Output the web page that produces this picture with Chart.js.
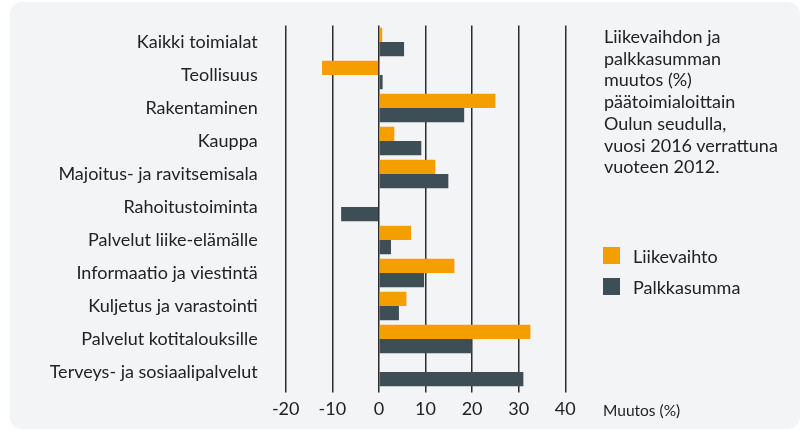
<!DOCTYPE html>
<html>
<head>
<meta charset="utf-8">
<script src="https://cdn.jsdelivr.net/npm/chart.js@4"></script>
<style>
  html, body { margin:0; padding:0; background:#ffffff; }
  body { width:806px; height:430px; position:relative; overflow:hidden; font-family: Lato, "Open Sans", sans-serif; color:#222; }
  #panel { position:absolute; left:10px; top:2px; width:790px; height:427px; background:#f3f4f6; border-radius:12px; }
  #wrap { position:absolute; left:0; top:0; width:806px; height:430px; }
  #title { position:absolute; left:604px; top:26px; font-size:18px; line-height:21.7px; color:#222; white-space:nowrap; }
  #legend { position:absolute; left:603px; top:240px; font-size:18px; color:#222; }
  #legend .item { display:flex; align-items:center; height:31px; }
  #legend .sw { width:17px; height:17px; margin-right:13px; flex:none; }
  #unit { position:absolute; left:603px; top:401px; font-size:15.5px; color:#222; }
</style>
</head>
<body>
<div id="panel"></div>
<div id="wrap"><canvas id="c" width="806" height="430"></canvas></div>
<div id="title">Liikevaihdon ja<br>palkkasumman<br>muutos (%)<br>päätoimialoittain<br>Oulun seudulla,<br>vuosi 2016 verrattuna<br>vuoteen 2012.</div>
<div id="legend"></div>
<div id="unit">Muutos (%)</div>
<script>
const categories = [
  "Kaikki toimialat",
  "Teollisuus",
  "Rakentaminen",
  "Kauppa",
  "Majoitus- ja ravitsemisala",
  "Rahoitustoiminta",
  "Palvelut liike-elämälle",
  "Informaatio ja viestintä",
  "Kuljetus ja varastointi",
  "Palvelut kotitalouksille",
  "Terveys- ja sosiaalipalvelut"
];
const liikevaihto = [0.7, -12.2, 25.0, 3.3, 12.1, 0, 6.9, 16.2, 5.9, 32.5, 0];
const palkkasumma = [5.4, 0.8, 18.3, 9.1, 14.9, -8.1, 2.6, 9.7, 4.3, 19.9, 31.0];
const seriesNames = ["Liikevaihto", "Palkkasumma"];
const seriesColors = ["#f59e00", "#3e4e56"];
const xTicks = [-20, -10, 0, 10, 20, 30, 40];

// HTML legend from series arrays
const leg = document.getElementById('legend');
seriesNames.forEach((n, i) => {
  const d = document.createElement('div'); d.className = 'item';
  const s = document.createElement('span'); s.className = 'sw'; s.style.background = seriesColors[i];
  const t = document.createElement('span'); t.textContent = n;
  d.appendChild(s); d.appendChild(t); leg.appendChild(d);
});

new Chart(document.getElementById('c'), {
  type: 'bar',
  data: {
    labels: categories,
    datasets: [
      { label: seriesNames[0], data: liikevaihto, backgroundColor: seriesColors[0], borderWidth: 0 },
      { label: seriesNames[1], data: palkkasumma, backgroundColor: seriesColors[1], borderWidth: 0 }
    ]
  },
  options: {
    indexAxis: 'y',
    responsive: false,
    animation: false,
    devicePixelRatio: 1,
    categoryPercentage: 0.86,
    barPercentage: 1.0,
    layout: { padding: { left: 0, right: 240.7, top: 25.5, bottom: 0 } },
    plugins: { legend: { display: false }, tooltip: { enabled: false }, title: { display: false } },
    scales: {
      x: {
        type: 'linear',
        min: -20, max: 40,
        afterBuildTicks: (s) => { s.ticks = xTicks.map(v => ({ value: v })); },
        afterFit: (s) => { s.height = 41.5; s.paddingLeft = 0; s.paddingRight = 0; },
        grid: { color: '#2b2b2b', lineWidth: 1.5, drawTicks: true, tickLength: 4, tickColor: '#2b2b2b' },
        border: { display: false },
        ticks: {
          color: '#222', padding: 6,
          font: { family: 'Lato', size: 18 },
          callback: (v) => String(v)
        }
      },
      y: {
        afterFit: (s) => { s.width = 285.7; s.paddingTop = 0; s.paddingBottom = 0; },
        grid: { display: false, drawTicks: false },
        border: { display: false },
        ticks: {
          color: '#222', padding: 28,
          font: { family: 'Lato', size: 18 }
        }
      }
    }
  }
});
</script>
</body>
</html>
